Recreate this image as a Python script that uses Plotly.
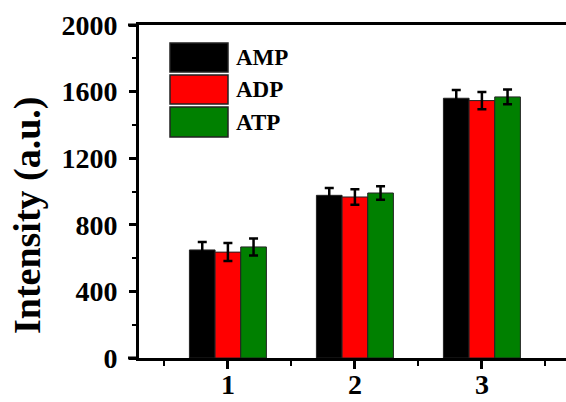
import plotly.graph_objects as go

groups = [1, 2, 3]
group_labels = ["1", "2", "3"]
series_names = ["AMP", "ADP", "ATP"]
amp = [649, 977, 1560]
adp = [636, 967, 1546]
atp = [667, 991, 1568]
amp_err = [47, 44, 50]
adp_err = [54, 46, 52]
atp_err = [51, 41, 44]
colors = ["#000000", "#FF0000", "#008000"]
y_ticks = [0, 400, 800, 1200, 1600, 2000]

W, H = 566, 402
L, R, T, B = 139, 0, 25, 44
pw = W - L - R
ph = H - T - B

FONT = "Liberation Serif, Times New Roman, serif"

fig = go.Figure()
for name, vals, errs, col in zip(series_names, [amp, adp, atp], [amp_err, adp_err, atp_err], colors):
    fig.add_trace(go.Bar(
        x=groups, y=vals, name=name,
        marker=dict(color=col, line=dict(color="#222222", width=1)),
        error_y=dict(type="data", array=errs, visible=True, color="#000000", thickness=2.5, width=4.5),
        showlegend=False, hoverinfo="skip",
    ))

fig.update_layout(
    width=W, height=H,
    margin=dict(l=L, r=R, t=T, b=B, pad=0, autoexpand=False),
    barmode="group", bargap=0.394, bargroupgap=0,
    plot_bgcolor="white", paper_bgcolor="white",
    font=dict(family=FONT, size=28, color="black"),
    showlegend=False,
)

fig.update_xaxes(
    automargin=False,
    range=[0.30, 0.30 + pw / 127.0],
    tickmode="array", tickvals=groups, showticklabels=False,
    ticks="outside", ticklen=8, tickwidth=2.5, tickcolor="black",
    minor=dict(tickmode="array", tickvals=[0.5, 1.5, 2.5, 3.5], ticks="outside", ticklen=5, tickwidth=2, tickcolor="black"),
    showline=True, linecolor="black", linewidth=3, mirror=True,
    showgrid=False, zeroline=False,
)
fig.update_yaxes(
    automargin=False,
    range=[0, 2000],
    tickmode="array", tickvals=y_ticks, ticktext=[str(v) for v in y_ticks],
    ticks="outside", ticklen=7, tickwidth=2.5, tickcolor="black",
    minor=dict(tickmode="array", tickvals=[200, 600, 1000, 1400, 1800], ticks="outside", ticklen=4, tickwidth=2, tickcolor="black"),
    showline=True, linecolor="black", linewidth=3, mirror=False,
    showgrid=False, zeroline=False,
    ticklabelstandoff=6,
    tickfont=dict(family=FONT, size=28, color="black", weight="bold"),
)

def px_x(x):
    return (x - L) / pw

def px_y(y):
    return (H - B - y) / ph

# x tick labels (placed as text at the group positions)
for g, lab in zip(groups, group_labels):
    fig.add_annotation(text="<b>" + lab + "</b>", xref="x", yref="paper",
                       x=g, y=px_y(384), xanchor="center", yanchor="middle",
                       showarrow=False, font=dict(family=FONT, size=28, color="black"))

# axis line extensions to the left of the y axis
ext = -11.0 / pw
for yy in (0, 1):
    fig.add_shape(type="line", xref="paper", yref="paper", x0=ext, x1=0, y0=yy, y1=yy,
                  line=dict(color="black", width=3))

# y-axis title
fig.add_annotation(
    text="<b>Intensity (a.u.)</b>", xref="paper", yref="paper",
    x=px_x(27), y=px_y(215), xanchor="center", yanchor="middle",
    textangle=-90, showarrow=False, font=dict(family=FONT, size=38, color="black"),
)

# custom legend
legend_rows = [(43, 72), (75, 104), (107, 137)]
for name, col, (y0, y1) in zip(series_names, colors, legend_rows):
    fig.add_shape(type="rect", xref="paper", yref="paper",
                  x0=px_x(170), x1=px_x(228), y0=px_y(y1), y1=px_y(y0),
                  fillcolor=col, line=dict(color="#222222", width=1.5))
    fig.add_annotation(text="<b>" + name + "</b>", xref="paper", yref="paper",
                       x=px_x(234), y=px_y((y0 + y1) / 2), xanchor="left", yanchor="middle",
                       showarrow=False, font=dict(family=FONT, size=23, color="black"))

fig.write_html(
    "out.html",
    config={"displayModeBar": False},
    post_script="document.body.style.margin='0';document.body.style.padding='0';document.body.style.overflow='hidden';",
)
